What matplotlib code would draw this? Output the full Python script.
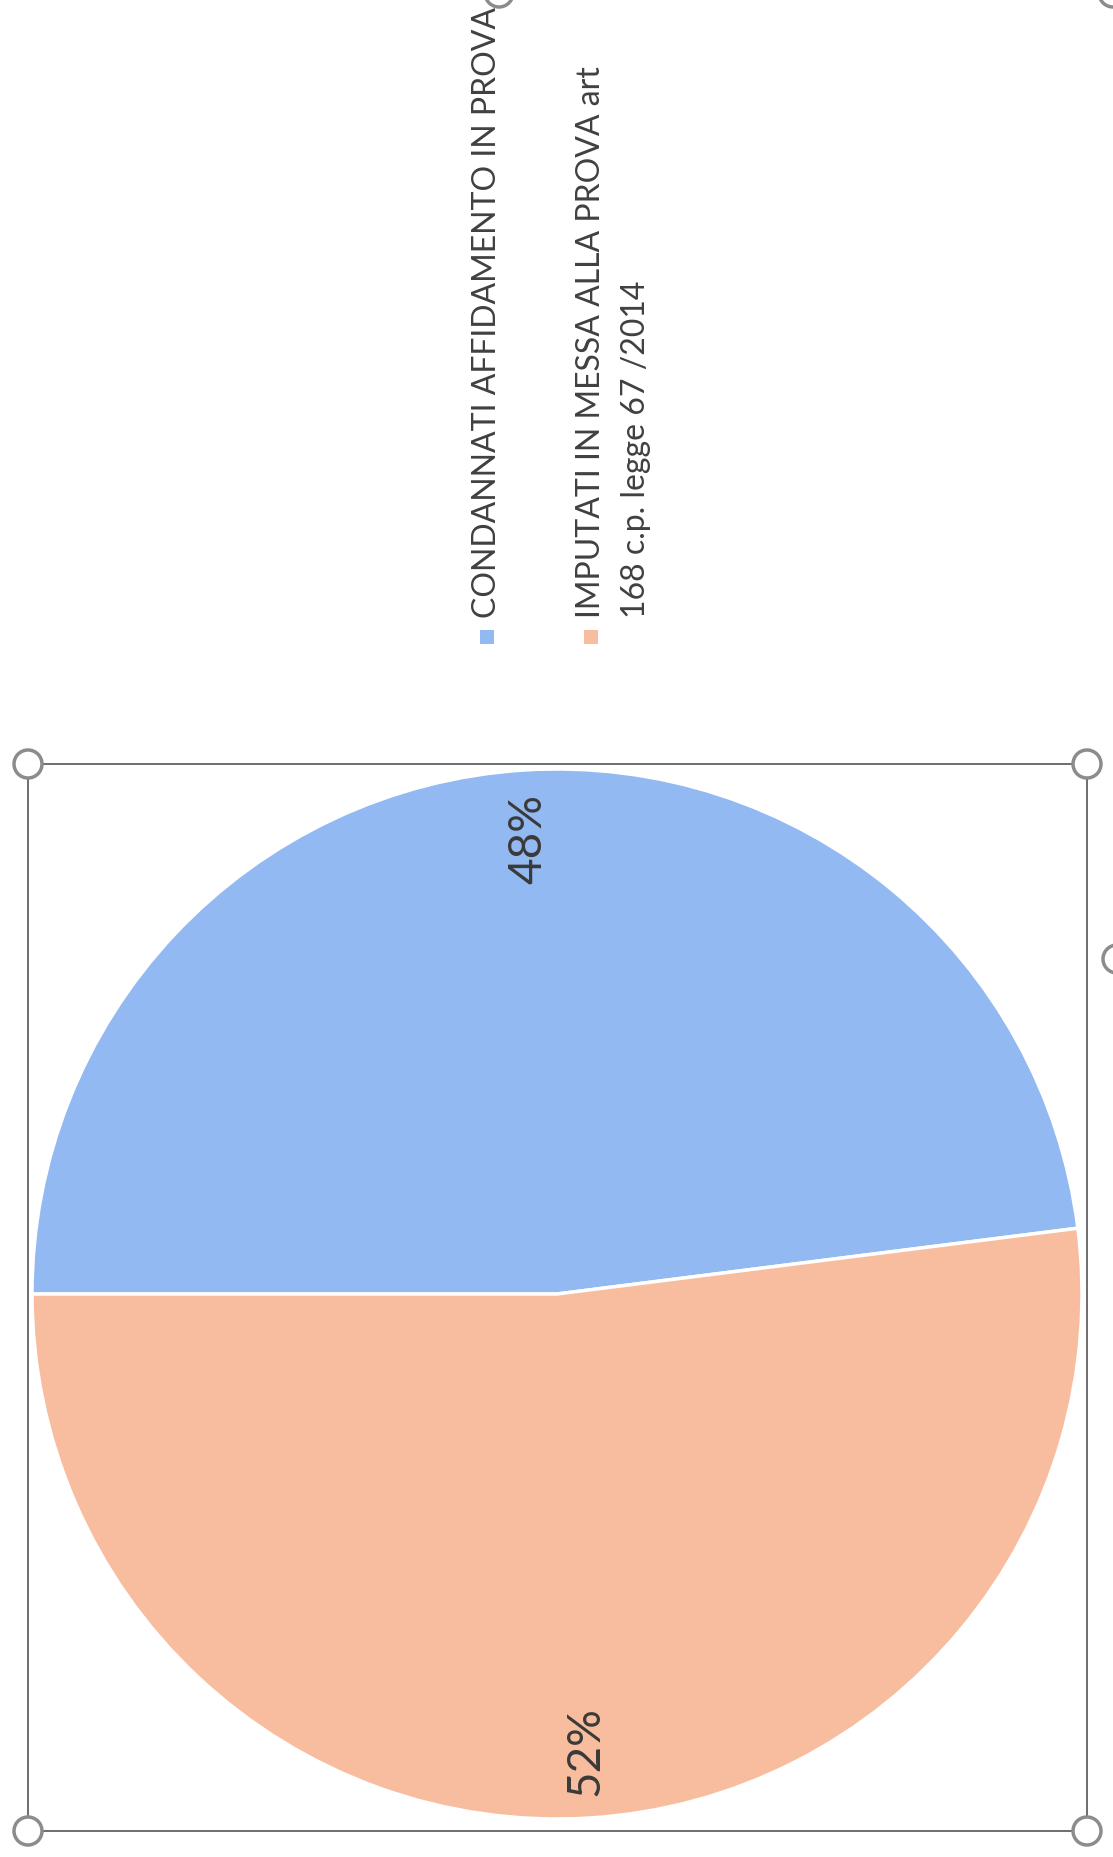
import matplotlib
matplotlib.use("Agg")
import matplotlib.pyplot as plt
from matplotlib.patches import Rectangle, Circle

plt.rcParams['font.family'] = ['Lato', 'DejaVu Sans']

# data
SHARES = [48, 52]
LABELS = ["CONDANNATI AFFIDAMENTO IN PROVA",
          "IMPUTATI IN MESSA ALLA PROVA art\n168 c.p. legge 67 /2014"]
COLORS = ["#92b9f2", "#f8bd9f"]

W, H = 1113, 1858
fig = plt.figure(figsize=(W / 100, H / 100), dpi=100)

# pie axes (pixel box: x 32..1082, y 770..1820 from top)
cx, cy, r = 557, 1295, 525
ax = fig.add_axes([(cx - r) / W, (H - cy - r) / H, 2 * r / W, 2 * r / H])
wedges, texts, autotexts = ax.pie(
    SHARES, colors=COLORS, startangle=180, counterclock=False,
    autopct=lambda p: f"{p:.0f}%", pctdistance=0.87,
    wedgeprops=dict(edgecolor="white", linewidth=2.5),
    textprops=dict(fontsize=33, color="#3a3a3a"))
for t in autotexts:
    t.set_rotation(90)
    t.set_rotation_mode("anchor")
    t.set_ha("center")
    t.set_va("center")
ax.set_xlim(-1, 1)
ax.set_ylim(-1, 1)

# overlay in pixel coords for frame + legend
ov = fig.add_axes([0, 0, 1, 1])
ov.set_xlim(0, W)
ov.set_ylim(H, 0)
ov.axis("off")

# selection frame around the pie
ov.add_patch(Rectangle((28, 765), 1059, 1067, fill=False,
                       edgecolor="#555555", linewidth=1.2))
for (hx, hy) in [(28, 765), (1087, 765), (28, 1832), (1087, 1832),
                 (1117, 960), (499, -6), (1113, -6)]:
    ov.add_patch(Circle((hx, hy), 14, facecolor="white",
                        edgecolor="#8c8c8c", linewidth=2.5, zorder=5))

# rotated legend, one column of text per line
leg_x = [487, 591]
line_gap = 45
for i, (lab, col) in enumerate(zip(LABELS, COLORS)):
    ov.add_patch(Rectangle((leg_x[i] - 7, 631), 14, 14,
                           facecolor=col, edgecolor="none"))
    for j, line in enumerate(lab.split("\n")):
        ov.text(leg_x[i] + j * line_gap, 618, line, rotation=90,
                rotation_mode="anchor", ha="left", va="center",
                fontsize=23, color="#404040")

plt.savefig("out.png", dpi=100)
